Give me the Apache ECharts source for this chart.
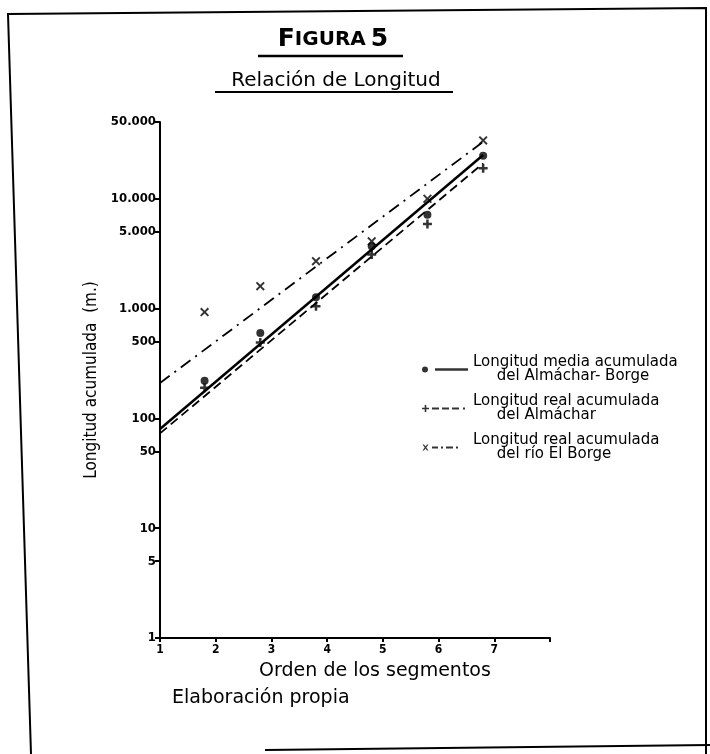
<!DOCTYPE html>
<html><head><meta charset="utf-8">
<script src="https://cdn.jsdelivr.net/npm/echarts@6/dist/echarts.min.js"></script>
<style>html,body{margin:0;padding:0;background:#fff}#c{width:710px;height:754px}</style>
</head><body><div id="c"></div>
<script>
// x positions of the plotted points (orden de los segmentos, as drawn)
const orders = [1.8, 2.8, 3.8, 4.8, 5.8, 6.8];
// Longitud media acumulada del Almáchar-Borge (m)
const mediaAlmacharBorge = [220, 600, 1270, 3700, 7150, 24600];
// Longitud real acumulada del Almáchar (m)
const realAlmachar = [190, 490, 1050, 3100, 5900, 19000];
// Longitud real acumulada del río El Borge (m)
const realElBorge = [930, 1600, 2700, 4100, 10000, 34000];
// fitted lines: [order, value] at start and end
const fitMedia = [[1, 80], [6.8, 25000]];
const fitAlmachar = [[1, 73], [6.8, 21000]];
const fitBorge = [[1, 210], [6.8, 33000]];
// axis tick labels
const yTicks = [1, 5, 10, 50, 100, 500, 1000, 5000, 10000, 50000];
const xTicks = [1, 2, 3, 4, 5, 6, 7];

const names = [
  'Longitud media acumulada\n     del Almáchar- Borge',
  'Longitud real acumulada\n     del Almáchar',
  'Longitud real acumulada\n     del río El Borge'
];
const FONT = '"DejaVu Sans", sans-serif';
const FONTC = '"DejaVu Sans Condensed", "DejaVu Sans", sans-serif';
const xSym = 'path://M0,1.5 L1.5,0 L5,3.5 L8.5,0 L10,1.5 L6.5,5 L10,8.5 L8.5,10 L5,6.5 L1.5,10 L0,8.5 L3.5,5 Z';
const plusSym = 'path://M3.6,0 H6.4 V3.6 H10 V6.4 H6.4 V10 H3.6 V6.4 H0 V3.6 H3.6 Z';
const anchors = ' M0,0 L0,0 Z M46,10 L46,10 Z';

const pts = (arr) => orders.map((o, i) => [o, arr[i]]);

const chart = echarts.init(document.getElementById('c'), null, {renderer: 'canvas'});
chart.setOption({
  backgroundColor: '#fff',
  animation: false,
  title: [{
    text: '{b|F}{s|IGURA} {b|5}',
    left: 328, top: 22, textAlign: 'center',
    textStyle: {rich: {
      b: {fontFamily: FONT, fontSize: 25, fontWeight: 'bold', color: '#000'},
      s: {fontFamily: FONT, fontSize: 20, fontWeight: 'bold', color: '#000'}
    }}
  }, {
    text: 'Relación de Longitud',
    left: 331, top: 66, textAlign: 'center',
    textStyle: {fontFamily: FONT, fontSize: 20, fontWeight: 'normal', color: '#000'}
  }],
  legend: {
    orient: 'vertical', left: 417, top: 350, itemGap: 10,
    itemWidth: 46, itemHeight: 10, selectedMode: false, symbolKeepAspect: true,
    textStyle: {fontFamily: FONT, fontSize: 15, color: '#000', lineHeight: 14},
    data: [
      {name: names[0], icon: 'path://M0,5 A3,3 0 1,1 6,5 A3,3 0 1,1 0,5 Z M13,3.8 L46,3.8 L46,6.3 L13,6.3 Z' + anchors},
      {name: names[1], icon: 'path://M2.7,1.5 H4.3 V4.2 H7 V5.8 H4.3 V8.5 H2.7 V5.8 H0 V4.2 H2.7 Z M10,4.1 L17,4.1 L17,5.9 L10,5.9 Z M20,4.1 L27,4.1 L27,5.9 L20,5.9 Z M30,4.1 L37,4.1 L37,5.9 L30,5.9 Z M41,4.1 L43,4.1 L43,5.9 L41,5.9 Z' + anchors},
      {name: names[2], icon: 'path://M0.5,2 L2,2 L3.5,3.9 L5,2 L6.5,2 L4.3,5 L6.5,8 L5,8 L3.5,6.1 L2,8 L0.5,8 L2.7,5 Z M10,4.1 L16,4.1 L16,5.9 L10,5.9 Z M19,4.1 L21,4.1 L21,5.9 L19,5.9 Z M24,4.1 L31,4.1 L31,5.9 L24,5.9 Z M34,4.1 L36,4.1 L36,5.9 L34,5.9 Z' + anchors}
    ]
  },
  grid: {left: 160, right: 160, top: 122, bottom: 116, containLabel: false},
  xAxis: {
    type: 'value', min: 1, max: 8, interval: 1,
    name: 'Orden de los segmentos', nameLocation: 'middle', nameGap: 24,
    nameTextStyle: {fontFamily: FONT, fontSize: 19, color: '#000', padding: [0, 0, 0, 40]},
    axisLine: {lineStyle: {color: '#000', width: 2}},
    axisTick: {show: true, inside: false, length: 4, lineStyle: {color: '#000', width: 2}},
    axisLabel: {fontFamily: FONTC, fontSize: 12, fontWeight: 'bold', color: '#000', margin: 6,
      formatter: v => (xTicks.indexOf(v) >= 0 ? String(v) : '')},
    splitLine: {show: false}
  },
  yAxis: {
    type: 'log', logBase: 10, min: 1, max: 50000,
    name: 'Longitud acumulada  (m.)', nameLocation: 'middle', nameGap: 47, nameRotate: 90,
    nameTextStyle: {fontFamily: FONTC, fontSize: 17, color: '#000'},
    axisLine: {show: true, lineStyle: {color: '#000', width: 2}},
    axisTick: {show: true, length: 5, customValues: yTicks, lineStyle: {color: '#000', width: 2}},
    axisLabel: {fontFamily: FONTC, fontSize: 13, fontWeight: 'bold', color: '#000', margin: 4,
      customValues: yTicks,
      formatter: v => String(Math.round(v)).replace(/\B(?=(\d{3})+(?!\d))/g, '.')},
    splitLine: {show: false}
  },
  series: [
    {name: names[0], type: 'scatter', data: pts(mediaAlmacharBorge), symbol: 'circle', symbolSize: 8,
      itemStyle: {color: '#000'}, z: 5},
    {name: names[1], type: 'scatter', data: pts(realAlmachar), symbol: plusSym, symbolSize: 9,
      itemStyle: {color: '#000'}, z: 5},
    {name: names[2], type: 'scatter', data: pts(realElBorge), symbol: xSym, symbolSize: 9,
      itemStyle: {color: '#000'}, z: 5},
    {name: names[0], type: 'line', data: fitMedia, showSymbol: false, symbol: 'none',
      lineStyle: {color: '#000', width: 2.5, type: 'solid'}},
    {name: names[1], type: 'line', data: fitAlmachar, showSymbol: false, symbol: 'none',
      lineStyle: {color: '#000', width: 1.8, type: [9, 5]}},
    {name: names[2], type: 'line', data: fitBorge, showSymbol: false, symbol: 'none',
      lineStyle: {color: '#000', width: 1.8, type: [12, 6, 2, 6]}}
  ],
  graphic: [
    {type: 'line', shape: {x1: 258, y1: 56, x2: 403, y2: 56}, style: {stroke: '#000', lineWidth: 2.5}},
    {type: 'line', shape: {x1: 215, y1: 92, x2: 453, y2: 92}, style: {stroke: '#000', lineWidth: 2}},
    {type: 'text', left: 172, top: 689,
      style: {text: 'Elaboración propia', fontFamily: FONT, fontSize: 19, fill: '#000'}},
    {type: 'polyline', shape: {points: [[31, 754], [8, 14], [706, 8], [706, 754]]},
      style: {stroke: '#000', lineWidth: 2, fill: null}},
    {type: 'line', shape: {x1: 265, y1: 750, x2: 710, y2: 745}, style: {stroke: '#000', lineWidth: 2}}
  ]
});
</script>
</body></html>
